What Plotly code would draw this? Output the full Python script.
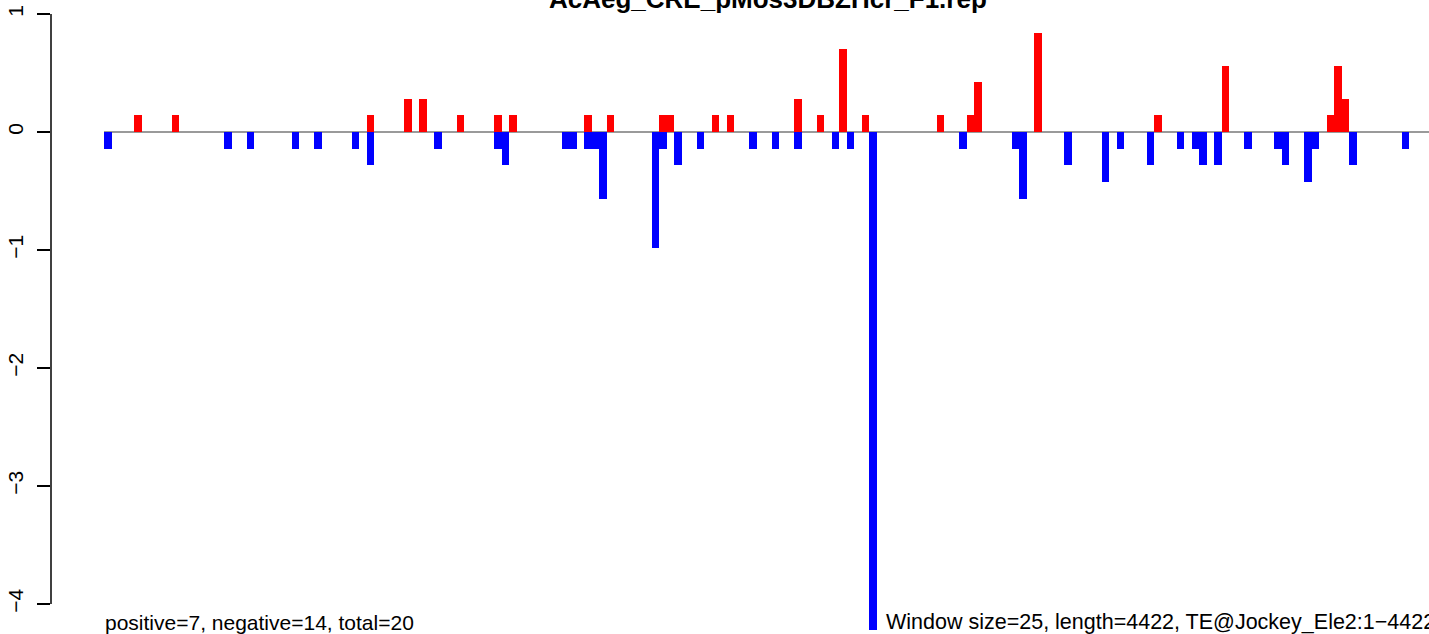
import plotly.graph_objects as go

# ---- data (window index, value) ----
pos_windows = [4, 9, 35, 40, 42, 47, 52, 54, 64, 67, 74, 75, 81, 83, 92, 95, 98, 101,
               111, 115, 116, 124, 140, 149, 163, 164, 165]
pos_values = [0.14, 0.14, 0.14, 0.28, 0.28, 0.14, 0.14, 0.14, 0.14, 0.14, 0.14, 0.14, 0.14, 0.14,
              0.28, 0.14, 0.70, 0.14, 0.14, 0.14, 0.42, 0.84, 0.14, 0.56, 0.14, 0.56, 0.28]

neg_windows = [0, 16, 19, 25, 28, 33, 35, 44, 52, 53, 61, 62, 64, 65, 66, 73, 74, 76, 79, 86, 89,
               92, 97, 99, 102, 114, 121, 122, 128, 133, 135, 139, 143, 145, 146, 148, 152, 156,
               157, 160, 161, 166, 173]
neg_values = [-0.14, -0.14, -0.14, -0.14, -0.14, -0.14, -0.28, -0.14, -0.14, -0.28, -0.14, -0.14,
              -0.14, -0.14, -0.57, -0.98, -0.14, -0.28, -0.14, -0.14, -0.14,
              -0.14, -0.14, -0.14, -4.30, -0.14, -0.14, -0.57, -0.28, -0.42, -0.14, -0.28, -0.14,
              -0.14, -0.28, -0.28, -0.14, -0.14, -0.28, -0.42, -0.14, -0.28, -0.14]

y_ticks = [-4, -3, -2, -1, 0, 1]
title_text = "AcAeg_CRE_pMos3DBZHcr_F1.rep"
left_note = "positive=7, negative=14, total=20"
right_note = "Window size=25, length=4422, TE@Jockey_Ele2:1\u22124422"

W, H = 1429, 634
ML, MR, MT, MB = 51, 0, 0, 4
PW, PH = W - ML - MR, H - MT - MB
PX_PER_BAR = 7.5
BAR0_LEFT = 104  # pixel of first window's left edge
x_lo = -0.5 - (BAR0_LEFT - ML) / PX_PER_BAR
x_hi = x_lo + PW / PX_PER_BAR
PX_PER_UNIT = 118.0
Y1_PIX = 14
y_hi = 1 + (Y1_PIX - MT) / PX_PER_UNIT
y_lo = y_hi - PH / PX_PER_UNIT

FONT = "Liberation Sans, Arial, Helvetica, sans-serif"

fig = go.Figure()
fig.add_trace(go.Bar(x=pos_windows, y=pos_values, width=1, marker=dict(color="#ff0000", line=dict(width=0)),
                     showlegend=False, hoverinfo="skip"))
fig.add_trace(go.Bar(x=neg_windows, y=neg_values, width=1, marker=dict(color="#0000ff", line=dict(width=0)),
                     showlegend=False, hoverinfo="skip"))

# zero line
fig.add_shape(type="line", xref="x", yref="y", x0=-0.5, x1=x_hi + 5, y0=0, y1=0,
              line=dict(color="#9a9a9a", width=2), layer="below")
# y axis line from -4 to 1
fig.add_shape(type="line", xref="paper", yref="y", x0=0, x1=0, y0=-4, y1=1,
              line=dict(color="black", width=1.5))

def px_to_paper_x(px):
    return (px - ML) / PW

def px_to_paper_y(py):
    return (H - MB - py) / PH

fig.add_annotation(text=f"<b>{title_text}</b>", xref="paper", yref="paper",
                   x=px_to_paper_x(767.5), y=px_to_paper_y(-1), xanchor="center", yanchor="middle",
                   showarrow=False, font=dict(family=FONT, size=26, color="black"))
fig.add_annotation(text=left_note, xref="paper", yref="paper",
                   x=px_to_paper_x(103), y=px_to_paper_y(622), xanchor="left", yanchor="middle",
                   showarrow=False, font=dict(family=FONT, size=21, color="black"))
fig.add_annotation(text=right_note, xref="paper", yref="paper",
                   x=px_to_paper_x(884), y=px_to_paper_y(622), xanchor="left", yanchor="middle",
                   showarrow=False, font=dict(family=FONT, size=21.5, color="black"))

fig.update_layout(
    width=W, height=H,
    margin=dict(l=ML, r=MR, t=MT, b=MB, pad=0),
    paper_bgcolor="white", plot_bgcolor="white",
    barmode="overlay", bargap=0,
    xaxis=dict(range=[x_lo, x_hi], visible=False, fixedrange=True),
    yaxis=dict(range=[y_lo, y_hi], showgrid=False, zeroline=False, showline=False,
               tickmode="array", tickvals=y_ticks, ticktext=[str(v).replace("-", "\u2212") for v in y_ticks],
               ticks="outside", ticklen=13, tickwidth=1.5, tickcolor="black",
               tickangle=-90, ticklabelstandoff=6,
               tickfont=dict(family=FONT, size=21, color="black")),
    font=dict(family=FONT),
)

fig.write_html("out.html", config={"displayModeBar": False},
               post_script="document.body.style.margin='0';document.body.style.overflow='hidden';")
